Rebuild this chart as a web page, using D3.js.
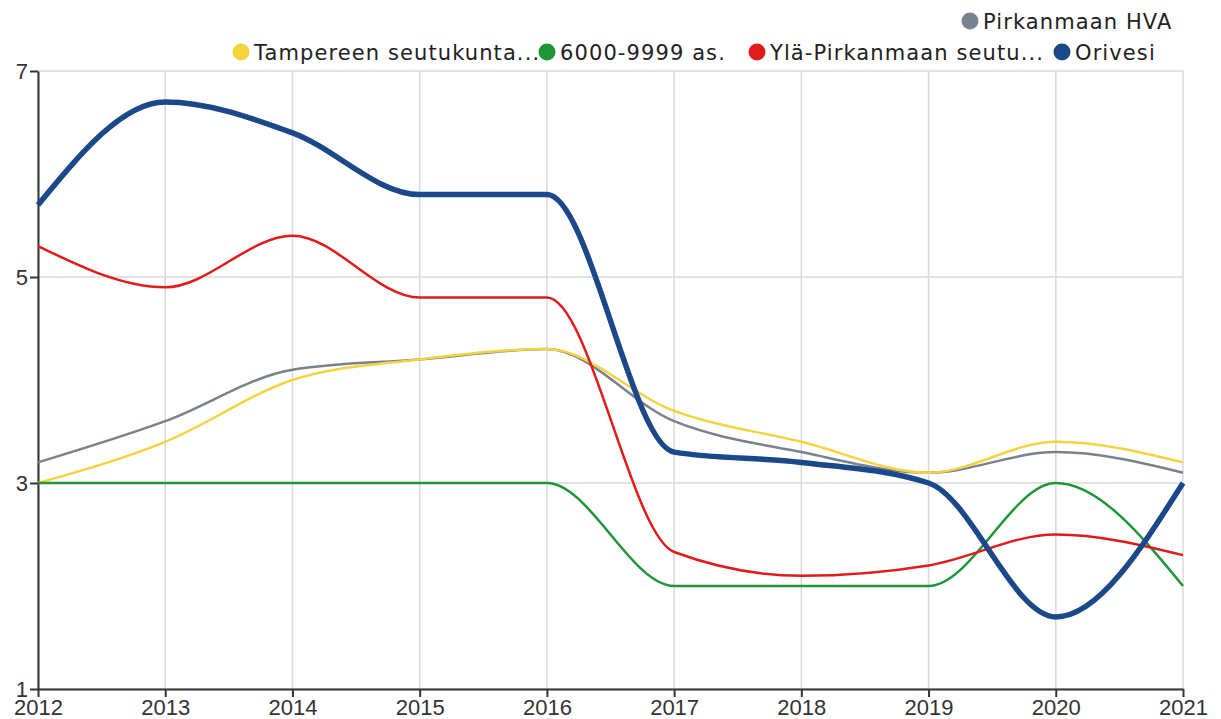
<!DOCTYPE html>
<html>
<head>
<meta charset="utf-8">
<script src="https://cdn.jsdelivr.net/npm/d3@7"></script>
<style>
  body { margin: 0; background: #fff; }
  svg { font-family: "DejaVu Sans", sans-serif; }
  .grid line { stroke: #d9d9d9; stroke-width: 1.5; }
  .axis path, .axis line { stroke: #333; stroke-width: 2; }
  .axis text { fill: #333; font-size: 22px; }
  .legend text { fill: #222; font-size: 21px; letter-spacing: 1.1px; }
</style>
</head>
<body>
<svg id="chart" width="1221" height="719"></svg>
<script>
/*******************************************************************************************/
// Data

var years = [2012, 2013, 2014, 2015, 2016, 2017, 2018, 2019, 2020, 2021];
var yTicks = [1, 3, 5, 7];

var seriesNames = ['Pirkanmaan HVA', 'Tampereen seutukunta...', '6000-9999 as.', 'Ylä-Pirkanmaan seutu...', 'Orivesi'];
var seriesColors = ['#78828f', '#f5d33f', '#1e9636', '#e01b1b', '#1b4888'];

var pirkanmaa = [3.2, 3.6, 4.1, 4.2, 4.3, 3.6, 3.3, 3.1, 3.3, 3.1];
var tampere   = [3.0, 3.4, 4.0, 4.2, 4.3, 3.7, 3.4, 3.1, 3.4, 3.2];
var kokoluokka = [3, 3, 3, 3, 3, 2, 2, 2, 3, 2];
var ylaPirkanmaa = [5.3, 4.9, 5.4, 4.8, 4.8, 2.33, 2.1, 2.2, 2.5, 2.3];
var orivesi   = [5.7, 6.7, 6.4, 5.8, 5.8, 3.3, 3.2, 3.0, 1.7, 3.0];

var seriesValues = [pirkanmaa, tampere, kokoluokka, ylaPirkanmaa, orivesi];

/*******************************************************************************************/
// Scales

var svg = d3.select('#chart');
var plotLeft = 38, plotRight = 1183, plotTop = 71, plotBottom = 689;

var xScale = d3.scaleLinear().domain([2012, 2021]).range([plotLeft, plotRight]);
var yScale = d3.scaleLinear().domain([1, 7]).range([plotBottom, plotTop]);

// Grid
var grid = svg.append('g').attr('class', 'grid');
grid.selectAll('.vg').data(years).enter().append('line')
  .attr('x1', function(d){ return xScale(d) }).attr('x2', function(d){ return xScale(d) })
  .attr('y1', plotTop).attr('y2', plotBottom);
grid.selectAll('.hg').data(yTicks).enter().append('line')
  .attr('x1', plotLeft).attr('x2', plotRight)
  .attr('y1', function(d){ return yScale(d) }).attr('y2', function(d){ return yScale(d) });

// Axes
svg.append('g').attr('class', 'axis').attr('transform', 'translate(0,' + plotBottom + ')')
  .call(d3.axisBottom(xScale).tickValues(years).tickFormat(d3.format('d')).tickSize(8).tickSizeOuter(0))
  .selectAll('text').attr('y', 8).attr('dy', '0.8em');
svg.append('g').attr('class', 'axis').attr('transform', 'translate(' + plotLeft + ',0)')
  .call(d3.axisLeft(yScale).tickValues(yTicks).tickFormat(d3.format('d')).tickSize(8).tickSizeOuter(0))
  .selectAll('text').attr('x', -10);

/*******************************************************************************************/
// Lines

var lineGen = d3.line()
  .x(function(d, i){ return xScale(years[i]) })
  .y(function(d){ return yScale(d) })
  .curve(d3.curveMonotoneX);

seriesValues.forEach(function(vals, i){
  svg.append('path').datum(vals)
    .attr('d', lineGen)
    .attr('fill', 'none')
    .attr('stroke', seriesColors[i])
    .attr('stroke-width', i == 4 ? 5.5 : 2.5)
    .attr('stroke-linejoin', 'round');
});

/*******************************************************************************************/
// Legend

var legendPos = [
  { x: 970, y: 21 },
  { x: 241, y: 52 },
  { x: 547, y: 52 },
  { x: 757, y: 52 },
  { x: 1062, y: 52 }
];

var legend = svg.append('g').attr('class', 'legend');
seriesNames.forEach(function(name, i){
  var g = legend.append('g').attr('transform', 'translate(' + legendPos[i].x + ',' + legendPos[i].y + ')');
  g.append('circle').attr('r', 8.5).attr('fill', seriesColors[i]);
  g.append('text').attr('x', 13).attr('dy', '0.36em').text(name);
});
</script>
</body>
</html>
